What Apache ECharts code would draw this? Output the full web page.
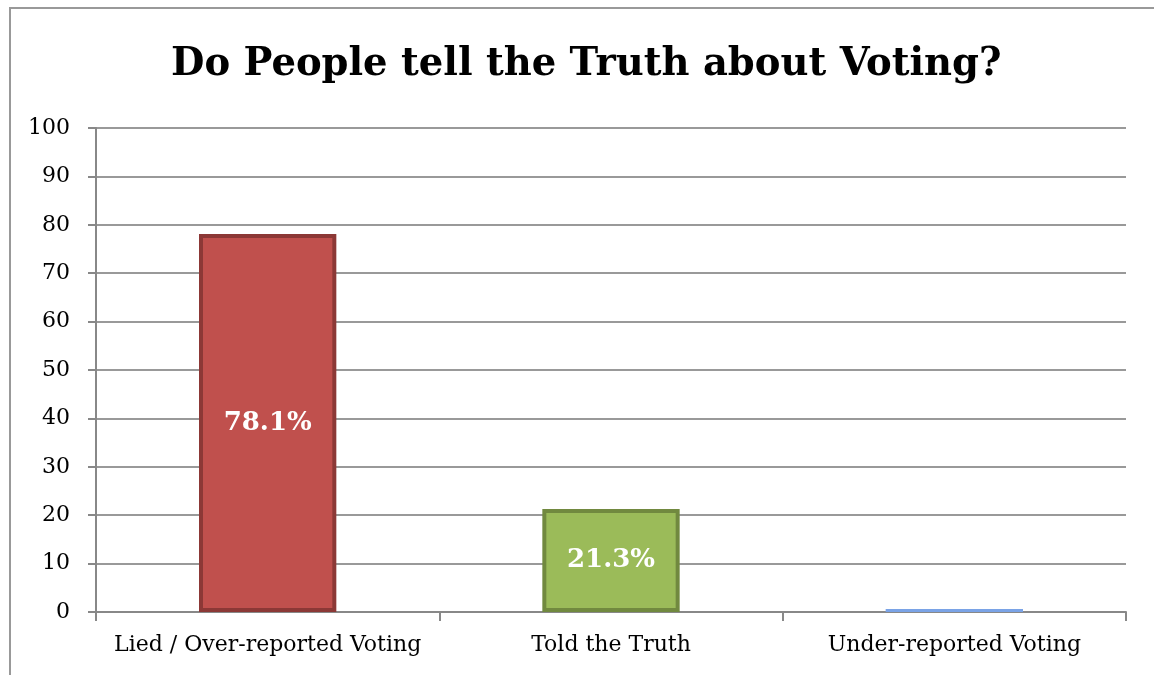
<!DOCTYPE html>
<html><head><meta charset="utf-8">
<script src="https://cdn.jsdelivr.net/npm/echarts@6/dist/echarts.min.js"></script>
<style>html,body{margin:0;padding:0;background:#fff;}#c{width:1154px;height:675px;}</style>
</head><body><div id="c"></div>
<script>
const categories = ['Lied / Over-reported Voting', 'Told the Truth', 'Under-reported Voting'];
const values = [78.1, 21.3, 0.6];
const valueLabels = ['78.1%', '21.3%', ''];
const fills = ['#C0504D', '#9BBB59', '#7AA3E6'];
const borders = ['#8C3836', '#71893F', '#7AA3E6'];
const titleText = 'Do People tell the Truth about Voting?';

const serif = '"DejaVu Serif", "Liberation Serif", serif';
const chart = echarts.init(document.getElementById('c'));
chart.setOption({
  animation: false,
  graphic: [{
    type: 'polyline', silent: true,
    shape: { points: [[10, 680], [10, 8], [1160, 8]] },
    style: { stroke: '#999', lineWidth: 2, fill: null }
  }],
  title: {
    text: titleText, left: 166, top: 40,
    textStyle: { fontFamily: serif, fontWeight: 'bold', fontSize: 38.5, color: '#000' }
  },
  grid: { left: 96, right: 28, top: 128, bottom: 63 },
  xAxis: {
    type: 'category', data: categories,
    axisLine: { lineStyle: { color: '#888', width: 2 } },
    axisTick: { show: true, interval: 0, length: 9, lineStyle: { color: '#888', width: 2 } },
    axisLabel: { interval: 0, fontFamily: serif, fontSize: 22, color: '#000', margin: 22 }
  },
  yAxis: {
    type: 'value', min: 0, max: 100, interval: 10,
    axisLine: { show: true, lineStyle: { color: '#888', width: 2 } },
    axisTick: { show: true, length: 8, lineStyle: { color: '#888', width: 2 } },
    axisLabel: { fontFamily: serif, fontSize: 22, color: '#000', margin: 26 },
    splitLine: { lineStyle: { color: '#999', width: 2 } }
  },
  series: [{
    type: 'bar', barWidth: '40%',
    data: values.map((v, i) => ({
      value: v,
      itemStyle: { color: fills[i], borderColor: borders[i], borderWidth: i < 2 ? 4 : 0 },
      label: { show: valueLabels[i] !== '', formatter: valueLabels[i] }
    })),
    label: {
      position: 'inside', color: '#fff', fontFamily: serif, fontWeight: 'bold', fontSize: 26
    }
  }]
});
</script></body></html>
